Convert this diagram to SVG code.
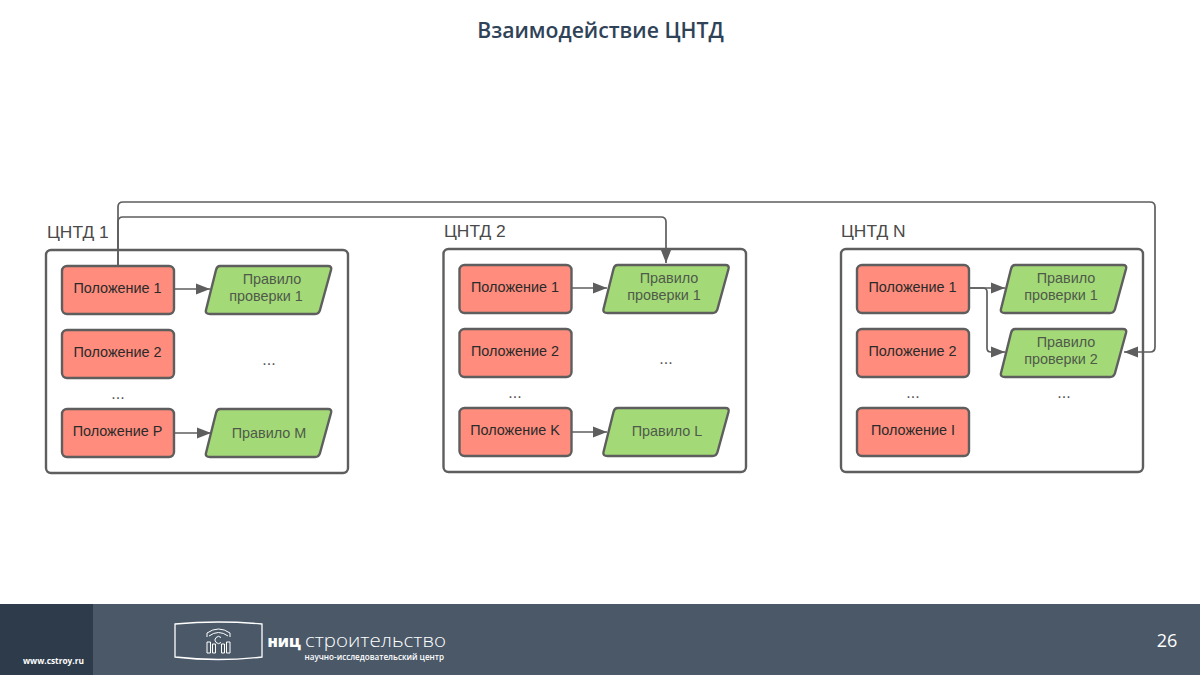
<svg xmlns="http://www.w3.org/2000/svg" width="1200" height="675" viewBox="0 0 1200 675">
<style>
text{font-family:"Liberation Sans",Arial,sans-serif}
.c{fill:#fff;stroke:#5e5e5e;stroke-width:2.4}
.r{fill:#ff8c7c;stroke:#5e5e5e;stroke-width:2.4}
.g{fill:#a3d977;stroke:#5e5e5e;stroke-width:2.4;stroke-linejoin:round}
.t{font-size:14.4px;fill:#2a2a2a;text-anchor:middle}
.tg{font-size:14.4px;fill:#4f5a4a;text-anchor:middle}
.h{font-size:17.4px;fill:#4a4a4a}
.d{font-size:16px;fill:#555;text-anchor:middle;opacity:.99}
.l{fill:none;stroke:#5e5e5e;stroke-width:1.7}
.f{fill:#fff;font-family:"Open Sans",sans-serif}
</style>
<defs>
<marker id="a" markerUnits="userSpaceOnUse" markerWidth="15" markerHeight="12" refX="14" refY="6" orient="auto"><path d="M0 0.500L14 6L0 11.500Z" fill="#5e5e5e"/></marker>
<path id="p" d="M14 0H122Q126 0 125 4L114 44Q113 48 109 48H4Q-1 48 0 44L10 4Q11 0 14 0Z"/>
</defs>
<rect width="1200" height="675" fill="#fff"/>
<text x="600.500" y="38" font-size="21.200" font-weight="600" text-anchor="middle" fill="#2f4358" style="font-family:'Open Sans',sans-serif">Взаимодействие ЦНТД</text>
<g id="cntd1">
<text class="h" x="47" y="238">ЦНТД 1</text>
<rect class="c" x="46" y="250" width="302" height="223" rx="5"/>
</g>
<g id="cntd2">
<text class="h" x="444" y="237">ЦНТД 2</text>
<rect class="c" x="443.500" y="249" width="302.500" height="223" rx="5"/>
</g>
<g id="cntdn">
<text class="h" x="841" y="237">ЦНТД N</text>
<rect class="c" x="841" y="249" width="302" height="223" rx="5"/>
</g>
<g id="n1-p1"><rect class="r" x="62" y="266" width="112" height="48" rx="5"/><text class="t" x="117.500" y="293">Положение 1</text></g>
<g id="n1-p2"><rect class="r" x="62" y="330" width="112" height="48" rx="5"/><text class="t" x="117.500" y="357">Положение 2</text></g>
<g id="n1-dots"><text class="d" x="118" y="399">...</text><text class="d" x="269" y="365">...</text></g>
<g id="n1-pp"><rect class="r" x="62" y="409" width="112" height="48" rx="5"/><text class="t" x="117.500" y="436">Положение P</text></g>
<g id="n1-r1"><use href="#p" class="g" x="206" y="266"/><text class="tg" x="272" y="284">Правило</text><text class="tg" x="266" y="301">проверки 1</text></g>
<g id="n1-rm"><use href="#p" class="g" x="206" y="409"/><text class="tg" x="269" y="438">Правило M</text></g>
<g id="n2-p1"><rect class="r" x="459.500" y="265" width="112" height="48" rx="5"/><text class="t" x="515" y="292">Положение 1</text></g>
<g id="n2-p2"><rect class="r" x="459.500" y="329" width="112" height="48" rx="5"/><text class="t" x="515" y="356">Положение 2</text></g>
<g id="n2-dots"><text class="d" x="515" y="398">...</text><text class="d" x="666" y="364">...</text></g>
<g id="n2-pk"><rect class="r" x="459.500" y="408" width="112" height="48" rx="5"/><text class="t" x="515" y="435">Положение K</text></g>
<g id="n2-r1"><use href="#p" class="g" x="603.500" y="265"/><text class="tg" x="669" y="283">Правило</text><text class="tg" x="664" y="300">проверки 1</text></g>
<g id="n2-rl"><use href="#p" class="g" x="603.500" y="408"/><text class="tg" x="667" y="436">Правило L</text></g>
<g id="nn-p1"><rect class="r" x="857" y="265" width="112" height="48" rx="5"/><text class="t" x="912.500" y="292">Положение 1</text></g>
<g id="nn-p2"><rect class="r" x="857" y="329" width="112" height="48" rx="5"/><text class="t" x="912.500" y="356">Положение 2</text></g>
<g id="nn-dots"><text class="d" x="913" y="398">...</text><text class="d" x="1064" y="398">...</text></g>
<g id="nn-pi"><rect class="r" x="857" y="408" width="112" height="48" rx="5"/><text class="t" x="913" y="435">Положение I</text></g>
<g id="nn-r1"><use href="#p" class="g" x="1001" y="265"/><text class="tg" x="1066" y="283">Правило</text><text class="tg" x="1061" y="300">проверки 1</text></g>
<g id="nn-r2"><use href="#p" class="g" x="1001" y="329"/><text class="tg" x="1066" y="347">Правило</text><text class="tg" x="1061" y="364">проверки 2</text></g>
<g id="connectors">
<path class="l" marker-end="url(#a)" d="M175 289H210"/>
<path class="l" marker-end="url(#a)" d="M175 433H211"/>
<path class="l" marker-end="url(#a)" d="M572 288H607"/>
<path class="l" marker-end="url(#a)" d="M572 432H607"/>
<path class="l" marker-end="url(#a)" d="M970 288H1005"/>
<path class="l" marker-end="url(#a)" d="M970 288H983Q987 288 987 292V348Q987 352 991 352H1005"/>
<path class="l" marker-end="url(#a)" d="M118 265V222Q118 217 123 217H661Q666 217 666 222V263"/>
<path class="l" marker-end="url(#a)" d="M118 265V207Q118 202 123 202H1150Q1155 202 1155 207V347Q1155 352 1150 352H1124"/>
</g>
<g id="footer">
<rect y="604" width="1200" height="71" fill="#4a5868"/>
<rect y="604" width="93" height="71" fill="#2d3b4a"/>
<text class="f" x="23" y="664" font-size="8.300" font-weight="700">www.cstroy.ru</text>
<path d="M175 624Q218 620 262 624V657Q218 662 175 657Z" fill="none" stroke="#fff" stroke-width="1.300"/>
<g fill="none" stroke="#fff" stroke-width="1">
<path d="M207 637V633Q218.500 625 230 633V637M209 636Q218.500 629 228 636"/>
<path d="M221 637.500A3.500 3.500 0 1 0 221 642.500"/>
<path d="M207 642h3.500v11h-3.500zM212.500 644h3v9h-3zM221.500 644h3v9h-3zM226.500 642h3.500v11h-3.500z"/>
</g>
<text class="f" x="267.500" y="647" font-size="15.500" font-weight="800">ниц</text>
<text class="f" x="305" y="647" font-size="19" font-weight="300" textLength="141" lengthAdjust="spacingAndGlyphs">строительство</text>
<text class="f" x="444" y="660" font-size="8.100" font-weight="600" text-anchor="end">научно-исследовательский центр</text>
<text class="f" x="1167" y="647" font-size="18" text-anchor="middle">26</text>
</g>
</svg>
